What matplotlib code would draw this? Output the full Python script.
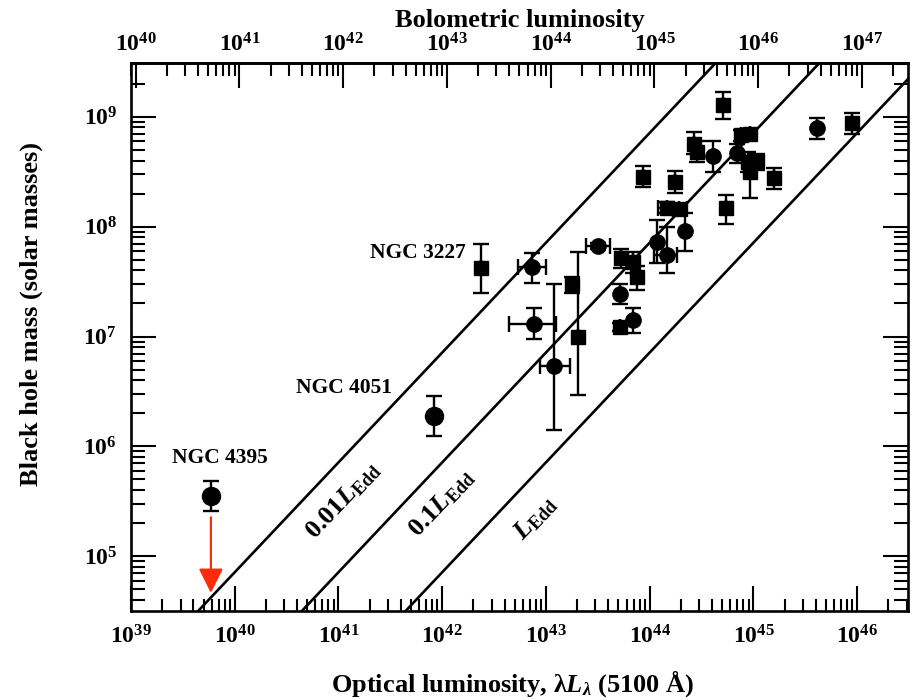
import numpy as np
import matplotlib
matplotlib.use('Agg')
import matplotlib.pyplot as plt
from matplotlib.ticker import FixedLocator, LogLocator, FuncFormatter, NullFormatter

plt.rcParams['font.family'] = 'Liberation Serif'
plt.rcParams['font.weight'] = 'bold'
plt.rcParams['axes.labelweight'] = 'bold'
plt.rcParams['mathtext.fontset'] = 'custom'
plt.rcParams['mathtext.rm'] = 'Liberation Serif:bold'
plt.rcParams['mathtext.it'] = 'Liberation Serif:bold:italic'
plt.rcParams['mathtext.bf'] = 'Liberation Serif:bold'

# AGN reverberation sample, log10 of optical luminosity (erg/s) and mass (Msun)
circ_logL = [45.61, 44.615, 44.84, 44.342, 44.075, 44.165, 43.506, 43.716, 43.84, 43.082, 42.88, 42.87]
circ_logM = [8.894, 8.642, 8.667, 7.962, 7.862, 7.74, 7.825, 7.39, 7.149, 6.73, 7.118, 7.634]
circ_Mlo = [8.794, 8.499, 8.58, 7.78, 7.665, 7.574, 7.80, 7.30, 7.03, 6.153, 6.98, 7.483]
circ_Mhi = [8.985, 8.779, 8.75, 8.12, 8.06, 7.998, 7.85, 7.48, 7.257, 7.48, 7.26, 7.756]
circ_Llo = [45.61, 44.615, 44.84, 44.342, 44.075, 44.04, 43.39, 43.716, 43.84, 42.94, 42.64, 42.735]
circ_Lhi = [45.61, 44.615, 44.84, 44.342, 44.075, 44.26, 43.62, 43.716, 43.84, 43.23, 43.10, 43.0]

sq_logL = [44.706, 44.88, 44.97, 44.43, 44.46, 44.95, 44.97, 45.03, 45.2, 43.94, 44.246,
           44.17, 44.28, 44.738, 43.72, 43.84, 43.88, 43.716, 43.25, 43.305, 45.95, 42.37]
sq_logM = [9.107, 8.833, 8.84, 8.75, 8.68, 8.59, 8.50, 8.60, 8.44, 8.454, 8.408,
           8.17, 8.16, 8.166, 7.713, 7.677, 7.54, 7.088, 7.476, 6.996, 8.94, 7.62]
sq_Mlo = [8.976, 8.78, 8.79, 8.66, 8.59, 8.50, 8.257, 8.52, 8.34, 8.357, 8.302,
          8.12, 8.11, 8.023, 7.62, 7.58, 7.42, 7.05, 7.40, 6.465, 8.842, 7.40]
sq_Mhi = [9.228, 8.88, 8.89, 8.86, 8.78, 8.68, 8.60, 8.66, 8.53, 8.551, 8.508,
          8.22, 8.21, 8.287, 7.80, 7.77, 7.64, 7.12, 7.54, 7.77, 9.036, 7.84]
sq_Llo = [44.706, 44.88, 44.97, 44.43, 44.46, 44.95, 44.97, 45.03, 45.2, 43.94, 44.246,
          44.08, 44.28, 44.738, 43.72, 43.84, 43.88, 43.716, 43.25, 43.305, 45.95, 42.37]
sq_Lhi = [44.706, 44.88, 44.97, 44.43, 44.46, 44.95, 44.97, 45.03, 45.2, 43.94, 44.246,
          44.17, 44.36, 44.738, 43.72, 43.84, 43.88, 43.716, 43.25, 43.305, 45.95, 42.37]

# the two low-luminosity Seyferts
big_names = ['NGC 4051', 'NGC 4395']
big_logL = [41.925, 39.77]
big_logM = [6.274, 5.548]
big_Mlo = [6.092, 5.41]
big_Mhi = [6.456, 5.685]

# NGC 4395 revised mass (arrow)
arrow_logL = 39.77
arrow_from = 5.354
arrow_to = 4.665

# Eddington fractions and where their labels sit (log L, log M)
edd_frac = [0.01, 0.1, 1.0]
edd_labels = [r'0.01$\mathit{L}_{\mathrm{Edd}}$', r'0.1$\mathit{L}_{\mathrm{Edd}}$', r'$\mathit{L}_{\mathrm{Edd}}$']
edd_label_logL = [41.05, 42.0, 42.9]
edd_label_logM = [5.51, 5.48, 5.35]
bol_corr = 9.0

bottom_ticks = [1e39, 1e40, 1e41, 1e42, 1e43, 1e44, 1e45, 1e46]
top_ticks = [1e40, 1e41, 1e42, 1e43, 1e44, 1e45, 1e46, 1e47]
left_ticks = [1e5, 1e6, 1e7, 1e8, 1e9]

xmin, xmax = 1e39, 10**46.49
ymin, ymax = 10**4.5, 10**9.49


def err_bars(v, lo, hi):
    v, lo, hi = 10**np.array(v), 10**np.array(lo), 10**np.array(hi)
    return np.vstack([v - lo, hi - v])


def tick_fmt(v, pos):
    return r'$\mathrm{10^{%d}}$' % int(round(np.log10(v)))


def style_axis(axis, majors):
    axis.set_major_locator(FixedLocator(majors))
    axis.set_minor_locator(LogLocator(base=10, subs=np.arange(2, 10), numticks=20))
    axis.set_major_formatter(FuncFormatter(tick_fmt))
    axis.set_minor_formatter(NullFormatter())


fig = plt.figure(figsize=(9.13, 7.0), dpi=100)
ax = fig.add_axes([0.1435, 0.127, 0.851, 0.783])
ax.set_xscale('log')
ax.set_yscale('log')
ax.set_xlim(xmin, xmax)
ax.set_ylim(ymin, ymax)

eb = dict(fmt='none', ecolor='black', elinewidth=1.7, capsize=6, capthick=1.7, zorder=3)
ax.errorbar(10**np.array(circ_logL), 10**np.array(circ_logM),
            yerr=err_bars(circ_logM, circ_Mlo, circ_Mhi),
            xerr=err_bars(circ_logL, circ_Llo, circ_Lhi), **eb)
ax.errorbar(10**np.array(sq_logL), 10**np.array(sq_logM),
            yerr=err_bars(sq_logM, sq_Mlo, sq_Mhi),
            xerr=err_bars(sq_logL, sq_Llo, sq_Lhi), **eb)
ax.errorbar(10**np.array(big_logL), 10**np.array(big_logM),
            yerr=err_bars(big_logM, big_Mlo, big_Mhi), **eb)
ax.plot(10**np.array(circ_logL), 10**np.array(circ_logM), 'o', color='black', ms=11, zorder=4)
ax.plot(10**np.array(sq_logL), 10**np.array(sq_logM), 's', color='black', ms=9.5, zorder=4)
ax.plot(10**np.array(big_logL), 10**np.array(big_logM), 'o', color='black', ms=13, zorder=4)

ax.annotate('', xy=(10**arrow_logL, 10**arrow_to), xytext=(10**arrow_logL, 10**arrow_from),
            arrowprops=dict(arrowstyle='-|>,head_length=1.5,head_width=0.75', color='#ff2a0a',
                            lw=1.6, shrinkA=0, shrinkB=0), zorder=5)

# Eddington lines: L_opt = f * 1.26e38 * M / bolometric correction
mgrid = np.logspace(4, 10, 50)
for f in edd_frac:
    ax.plot(f * 1.26e38 * mgrid / bol_corr, mgrid, color='black', lw=1.9, zorder=2)

fig.canvas.draw()
p0 = ax.transData.transform((1e41, 1e6))
p1 = ax.transData.transform((1e42, 1e7))
angle = np.degrees(np.arctan2(p1[1] - p0[1], p1[0] - p0[0]))
for lab, lx, ly in zip(edd_labels, edd_label_logL, edd_label_logM):
    ax.text(10**lx, 10**ly, lab, rotation=angle, rotation_mode='anchor',
            ha='center', va='center', fontsize=19)

ax.text(10**42.23, 10**7.76, 'NGC 3227', ha='right', va='center', fontsize=15.5)
ax.text(10**41.52, 10**6.53, big_names[0], ha='right', va='center', fontsize=15.5)
ax.text(10**39.86, 10**5.89, big_names[1], ha='center', va='center', fontsize=15.5)

style_axis(ax.xaxis, bottom_ticks)
style_axis(ax.yaxis, left_ticks)
ax.tick_params(which='both', direction='in', top=False, right=True, width=1.5, labelsize=17)
ax.tick_params(axis='x', which='major', length=18, pad=10)
ax.tick_params(axis='x', which='minor', length=9)
ax.tick_params(axis='y', which='major', length=18, pad=10)
ax.tick_params(axis='y', which='minor', length=10)
for s in ax.spines.values():
    s.set_linewidth(1.9)

top = ax.secondary_xaxis('top', functions=(lambda x: x * bol_corr, lambda x: x / bol_corr))
style_axis(top.xaxis, top_ticks)
top.tick_params(which='both', direction='in', width=1.5, labelsize=17, pad=5)
top.tick_params(which='major', length=18)
top.tick_params(which='minor', length=9)
top.spines['top'].set_linewidth(1.9)
top.set_xlabel('Bolometric luminosity', fontsize=19, fontweight='bold', labelpad=4)

fig.text(0.561, 0.024, r'Optical luminosity, λ$\mathit{L}_{λ}$ (5100 Å)', ha='center', va='center', fontsize=19)
fig.text(0.034, 0.551, 'Black hole mass (solar masses)', rotation=90, ha='center', va='center', fontsize=19)

fig.savefig('out.png', dpi=100)
